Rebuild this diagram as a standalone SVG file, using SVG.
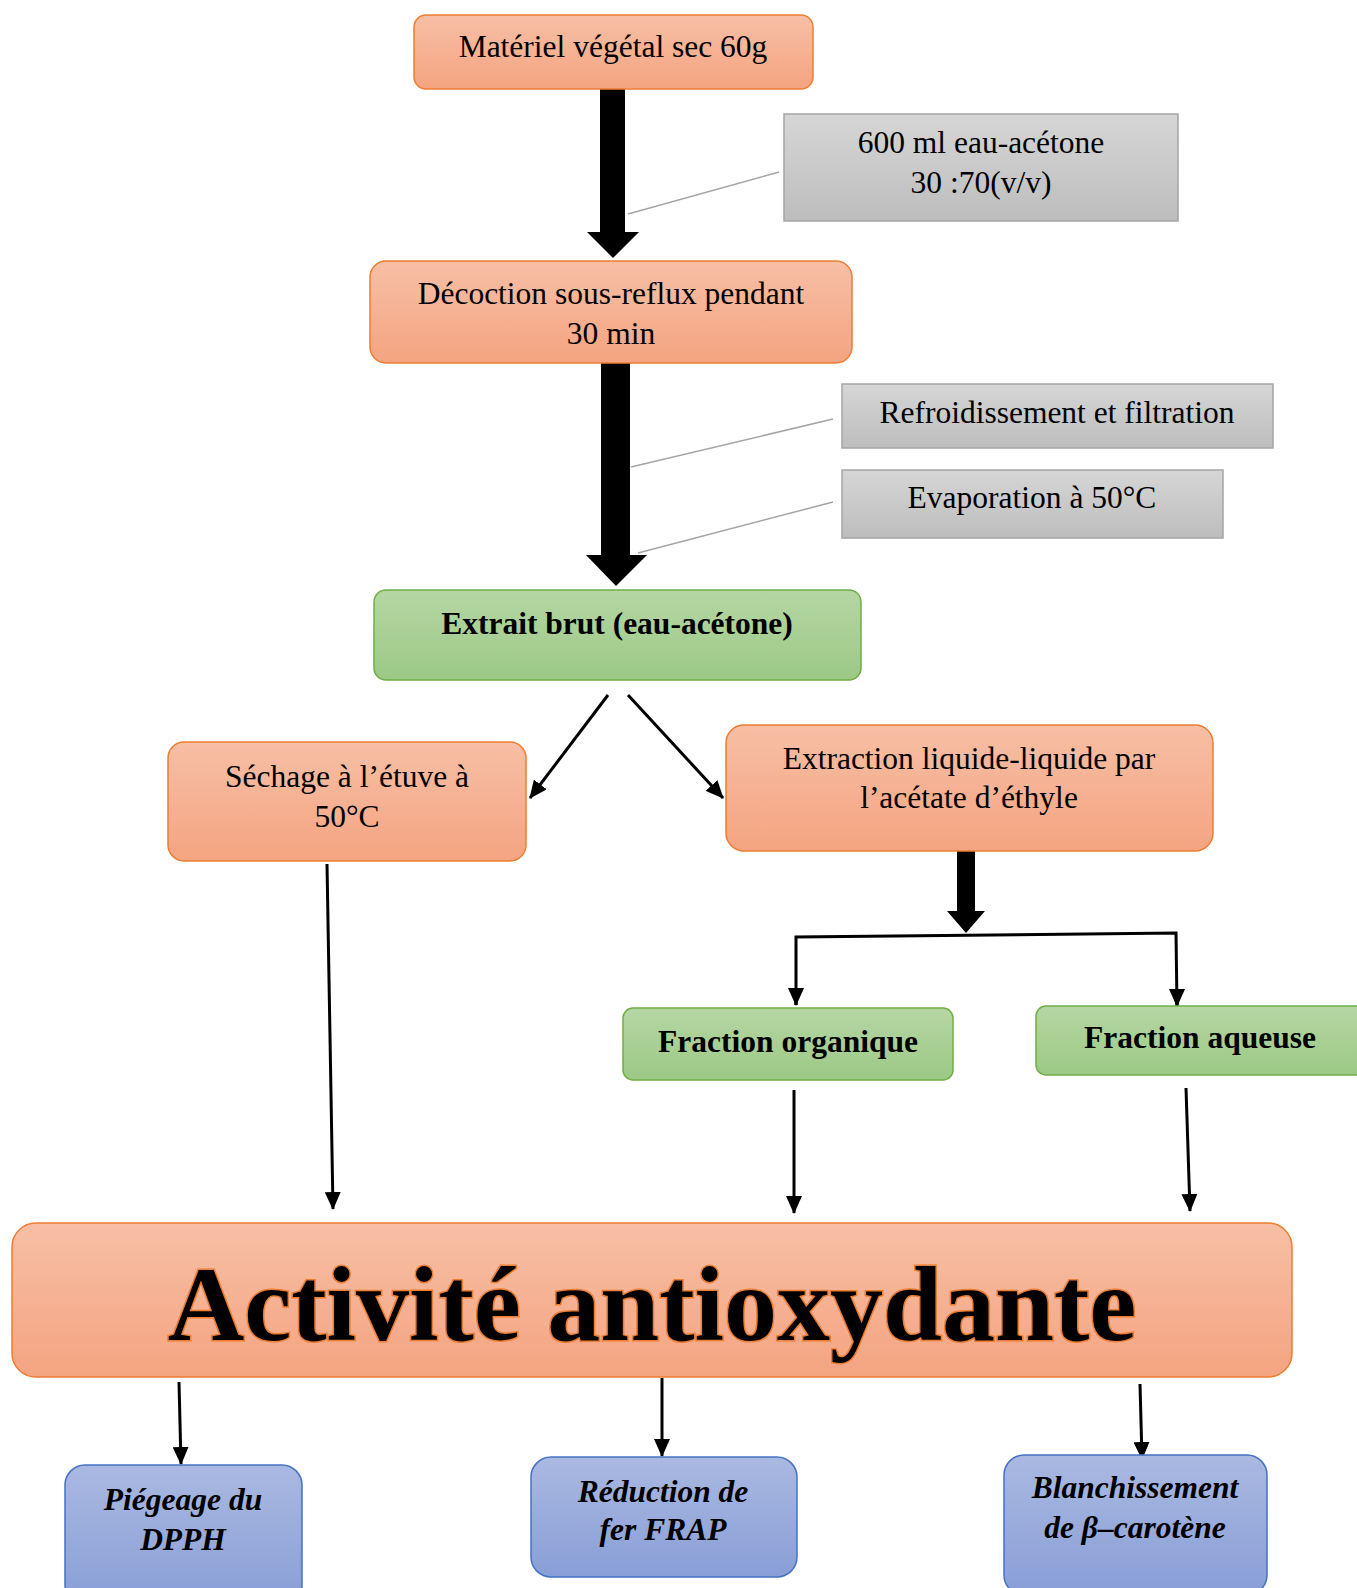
<svg xmlns="http://www.w3.org/2000/svg" width="1357" height="1588" viewBox="0 0 1357 1588">
<defs>
<linearGradient id="gOr" x1="0" y1="0" x2="0" y2="1"><stop offset="0" stop-color="#F7BFA5"/><stop offset="1" stop-color="#F4A481"/></linearGradient>
<linearGradient id="gGr" x1="0" y1="0" x2="0" y2="1"><stop offset="0" stop-color="#B5D6A4"/><stop offset="1" stop-color="#9CC985"/></linearGradient>
<linearGradient id="gGy" x1="0" y1="0" x2="0" y2="1"><stop offset="0" stop-color="#D6D6D6"/><stop offset="1" stop-color="#BDBDBD"/></linearGradient>
<linearGradient id="gBl" x1="0" y1="0" x2="0" y2="1"><stop offset="0" stop-color="#AAB9E1"/><stop offset="1" stop-color="#889ED6"/></linearGradient>
<marker id="ah" markerUnits="userSpaceOnUse" markerWidth="16" markerHeight="18" viewBox="0 0 16 18" refX="8" refY="17" orient="auto-start-reverse">
<path d="M0,0 L16,0 L8,18 Z" fill="#000" transform="rotate(0)"/>
</marker>
<marker id="ah2" markerUnits="userSpaceOnUse" markerWidth="18" markerHeight="16" viewBox="0 0 18 16" refX="17" refY="8" orient="auto">
<path d="M0,0 L18,8 L0,16 Z" fill="#000"/>
</marker>
</defs>
<style>
.or{fill:url(#gOr);stroke:#ED7D31;stroke-width:1.5}
.gr{fill:url(#gGr);stroke:#70AD47;stroke-width:1.5}
.gy{fill:url(#gGy);stroke:#A5A5A5;stroke-width:1.5}
.bl{fill:url(#gBl);stroke:#4472C4;stroke-width:1.5}
text{font-family:"Liberation Serif","Times New Roman",serif;font-size:31.5px;fill:#000;text-anchor:middle}
.b{font-weight:bold}
.bi{font-weight:bold;font-style:italic}
.thin{stroke:#000;stroke-width:3;fill:none}
.call{stroke:#A5A5A5;stroke-width:1.5;fill:none}
</style>

<g id="connectors">
<polygon points="600,89 625,89 625,232 639,232 613,258 587,232 600,232" fill="#000"/>
<polygon points="601,363 630,363 630,555 647,555 616,586 586,555 601,555" fill="#000"/>
<polygon points="957,851 975,851 975,911 985,911 966,933 947,911 957,911" fill="#000"/>
<line class="call" x1="628" y1="214" x2="779" y2="172"/>
<line class="call" x1="631" y1="467" x2="833" y2="419"/>
<line class="call" x1="638" y1="553" x2="833" y2="502"/>
<line class="thin" x1="608" y1="695" x2="530" y2="798" marker-end="url(#ah2)"/>
<line class="thin" x1="628" y1="695" x2="723" y2="798" marker-end="url(#ah2)"/>
<line class="thin" x1="327" y1="864" x2="333" y2="1209" marker-end="url(#ah2)"/>
<polyline class="thin" points="796,1005 796,937 1176,933 1177,1006"/>
<line class="thin" x1="796" y1="990" x2="796" y2="1005" marker-end="url(#ah2)"/>
<line class="thin" x1="1177" y1="990" x2="1177" y2="1006" marker-end="url(#ah2)"/>
<line class="thin" x1="794" y1="1090" x2="794" y2="1213" marker-end="url(#ah2)"/>
<line class="thin" x1="1186" y1="1088" x2="1190" y2="1211" marker-end="url(#ah2)"/>
<line class="thin" x1="179" y1="1382" x2="181" y2="1464" marker-end="url(#ah2)"/>
<line class="thin" x1="662" y1="1378" x2="662" y2="1456" marker-end="url(#ah2)"/>
<line class="thin" x1="1140" y1="1384" x2="1142" y2="1459" marker-end="url(#ah2)"/>
</g>

<g id="n1"><rect class="or" x="414" y="15" width="399" height="74" rx="12"/><text x="613" y="57">Matériel végétal sec 60g</text></g>
<g id="n2"><rect class="gy" x="784" y="114" width="394" height="107"/><text x="981" y="153">600 ml eau-acétone</text><text x="981" y="193">30 :70(v/v)</text></g>
<g id="n3"><rect class="or" x="370" y="261" width="482" height="102" rx="16"/><text x="611" y="304">Décoction sous-reflux pendant</text><text x="611" y="344">30 min</text></g>
<g id="n4"><rect class="gy" x="842" y="384" width="431" height="64"/><text x="1057" y="423">Refroidissement et filtration</text></g>
<g id="n5"><rect class="gy" x="842" y="470" width="381" height="68"/><text x="1032" y="508">Evaporation à 50°C</text></g>
<g id="n6"><rect class="gr" x="374" y="590" width="487" height="90" rx="12"/><text class="b" x="617" y="634">Extrait brut (eau-acétone)</text></g>
<g id="n7"><rect class="or" x="168" y="742" width="358" height="119" rx="16"/><text x="347" y="787">Séchage à l’étuve à</text><text x="347" y="827">50°C</text></g>
<g id="n8"><rect class="or" x="726" y="725" width="487" height="126" rx="18"/><text x="969" y="769">Extraction liquide-liquide par</text><text x="969" y="808">l’acétate d’éthyle</text></g>
<g id="n9"><rect class="gr" x="623" y="1008" width="330" height="72" rx="10"/><text class="b" x="788" y="1052">Fraction organique</text></g>
<g id="n10"><rect class="gr" x="1036" y="1006" width="332" height="69" rx="10"/><text class="b" x="1200" y="1048">Fraction aqueuse</text></g>
<g id="n11"><rect class="or" x="12" y="1223" width="1280" height="154" rx="24"/><text class="b" x="652" y="1340" style="font-size:106px;stroke:#ED7D31;stroke-width:3;paint-order:stroke fill">Activité antioxydante</text></g>
<g id="n12"><rect class="bl" x="65" y="1465" width="237" height="140" rx="20"/><text class="bi" x="183" y="1510">Piégeage du</text><text class="bi" x="183" y="1550">DPPH</text></g>
<g id="n13"><rect class="bl" x="531" y="1457" width="266" height="120" rx="20"/><text class="bi" x="663" y="1502">Réduction de</text><text class="bi" x="663" y="1540">fer FRAP</text></g>
<g id="n14"><rect class="bl" x="1004" y="1455" width="263" height="140" rx="20"/><text class="bi" x="1135" y="1498">Blanchissement</text><text class="bi" x="1135" y="1538">de β–carotène</text></g>
</svg>
